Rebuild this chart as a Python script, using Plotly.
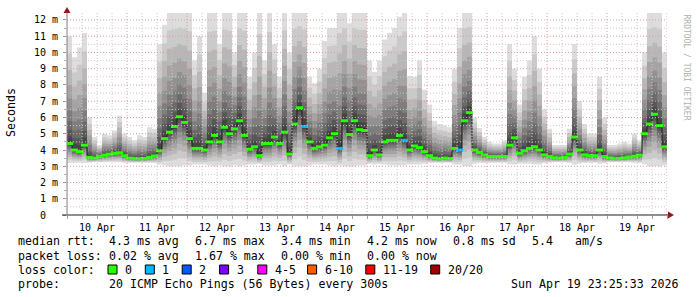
import plotly.graph_objects as go

# ---------------- data ----------------
# 2-hour columns starting Thu 10 Apr 00:00, values in milliseconds
step_h = 2
med_ms = [
    4.4, 4.0, 3.9, 4.3, 3.55, 3.5, 3.6, 3.68, 3.74, 3.79, 3.83, 3.65,      # 10 Apr
    3.5, 3.47, 3.46, 3.48, 3.55, 3.63, 3.95, 4.7, 5.1, 5.45, 6.05, 5.7,   # 11 Apr
    4.7, 4.1, 4.1, 4.0, 4.5, 4.9, 4.5, 5.4, 5.0, 5.3, 5.8, 4.9,           # 12 Apr
    4.05, 4.2, 3.65, 4.4, 4.4, 4.8, 4.4, 5.1, 3.75, 5.6, 6.6, 5.45,       # 13 Apr
    4.5, 4.1, 4.2, 4.3, 4.75, 5.0, 4.1, 5.8, 4.95, 5.8, 5.25, 5.2,        # 14 Apr
    3.65, 4.0, 3.7, 4.5, 4.6, 4.6, 4.9, 4.6, 4.0, 4.25, 4.15, 3.9,        # 15 Apr
    3.65, 3.5, 3.45, 3.5, 3.47, 4.1, 4.0, 5.8, 6.3, 4.0, 3.85, 3.7,       # 16 Apr
    3.6, 3.6, 3.6, 3.6, 4.3, 4.75, 3.8, 3.95, 4.1, 4.2, 4.0, 3.7,         # 17 Apr
    3.6, 3.52, 3.5, 3.55, 3.75, 4.8, 4.0, 3.7, 3.65, 3.65, 4.0, 3.6,      # 18 Apr
    3.52, 3.47, 3.48, 3.52, 3.57, 3.62, 3.68, 5.0, 5.6, 6.2, 5.5, 4.2,    # 19 Apr
]
hi_ms = [
    11.0, 9.7, 10.3, 11.2, 6.0, 4.8, 4.3, 5.0, 4.9, 5.2, 6.1, 5.0,
    4.8, 4.6, 4.9, 4.8, 5.4, 5.3, 10.5, 11.7, 12.6, 12.6, 12.6, 12.6,
    12.6, 9.5, 11.0, 7.5, 12.6, 12.6, 10.5, 12.6, 12.6, 10.0, 12.6, 12.6,
    8.5, 10.0, 12.6, 9.5, 12.6, 10.5, 8.5, 12.6, 10.0, 12.6, 12.6, 12.6,
    8.5, 8.1, 9.0, 10.7, 11.5, 11.5, 12.6, 12.6, 11.8, 12.6, 12.6, 12.6,
    9.5, 8.8, 9.5, 10.8, 11.2, 11.5, 12.2, 12.6, 8.55, 8.5, 9.5, 7.7,
    6.8, 5.8, 5.6, 5.5, 5.4, 9.0, 11.5, 12.6, 12.6, 6.0, 5.35, 4.8,
    4.5, 4.4, 4.4, 4.6, 10.5, 9.0, 6.8, 8.5, 9.5, 11.0, 9.0, 6.5,
    5.3, 4.3, 4.3, 4.3, 5.3, 10.5, 7.0, 5.6, 5.0, 5.0, 8.5, 6.0,
    4.3, 4.3, 4.4, 4.5, 4.4, 5.0, 4.6, 10.0, 12.6, 12.6, 12.6, 10.0,
]
lo_ms = [
    3.2, 3.2, 3.22, 3.2, 3.22, 3.25, 3.25, 3.25, 3.25, 3.25, 3.25, 3.22,
    3.22, 3.22, 3.22, 3.22, 3.22, 3.2, 3.1, 3.05, 3.0, 3.0, 3.0, 3.05,
    3.05, 3.1, 3.1, 3.1, 3.05, 3.0, 3.05, 3.0, 3.0, 3.05, 3.0, 3.05,
    3.1, 3.1, 3.15, 3.05, 3.05, 3.05, 3.1, 3.0, 3.1, 3.0, 3.0, 3.0,
    3.05, 3.1, 3.1, 3.1, 3.05, 3.0, 3.05, 3.0, 3.0, 3.0, 3.05, 3.05,
    3.15, 3.1, 3.15, 3.1, 3.05, 3.05, 3.05, 3.05, 3.1, 3.1, 3.1, 3.15,
    3.2, 3.22, 3.22, 3.22, 3.22, 3.1, 3.1, 3.0, 3.0, 3.15, 3.2, 3.2,
    3.22, 3.22, 3.22, 3.22, 3.1, 3.1, 3.15, 3.15, 3.15, 3.1, 3.1, 3.2,
    3.22, 3.25, 3.25, 3.25, 3.2, 3.1, 3.15, 3.2, 3.22, 3.22, 3.15, 3.2,
    3.25, 3.25, 3.25, 3.25, 3.25, 3.22, 3.2, 3.1, 3.0, 3.0, 3.0, 3.05,
]
# pings lost (of 20) per column
loss = [0] * 120
for c in (47, 54, 67, 78):
    loss[c] = 1

day_labels = ["10 Apr", "11 Apr", "12 Apr", "13 Apr", "14 Apr",
              "15 Apr", "16 Apr", "17 Apr", "18 Apr", "19 Apr"]
y_tick_vals = list(range(13))
y_tick_text = ["0\u00a0\u00a0"] + [f"{v} m" for v in range(1, 13)]

loss_levels = ["0", "1", "2", "3", "4-5", "6-10", "11-19", "20/20"]
loss_colors = ["#26ff00", "#00b8ff", "#0059ff", "#7e00ff",
               "#ff00ff", "#ff5e00", "#ff0000", "#a10000"]

stats_rtt = ["4.3 ms avg", "6.7 ms max", "3.4 ms min", "4.2 ms now", "0.8 ms sd"]
stats_loss = ["0.02 % avg", "1.67 % max", "0.00 % min", "0.00 % now"]
am_s = "5.4"
probe_text = "20 ICMP Echo Pings (56 Bytes) every 300s"
stamp = "Sun Apr 19 23:25:33 2026"

# ---------------- layout geometry ----------------
W, H = 697, 297
L, R, T, B = 67, 30, 13, 82
PW, PH = W - L - R, H - T - B
X_MAX = len(med_ms) * step_h
Y_MAX = 12.43
MONO = "DejaVu Sans Mono"


def px(xp):
    return (xp - L) / PW


def py(yp):
    return (H - B - yp) / PH


def stepify(v):
    return list(v) + [v[-1]]


x_edges = [i * step_h for i in range(len(med_ms) + 1)]
x_mid = [i * step_h + step_h / 2 for i in range(len(med_ms))]

fig = go.Figure()

# smoke: 10 grey bands, outer (light) to inner (dark)
n_lv = 10
for i in range(n_lv):
    f = ((n_lv - i) / n_lv) ** 1.7
    g = 221 - 19 * i
    col = f"rgb({g},{g},{g})"
    upper = [m + (h - m) * f for m, h in zip(med_ms, hi_ms)]
    lower = [m - (m - l) * f for m, l in zip(med_ms, lo_ms)]
    fig.add_trace(go.Scatter(x=x_edges, y=stepify(lower), mode="lines",
                             line=dict(width=0, shape="hv", color=col),
                             hoverinfo="skip", showlegend=False))
    fig.add_trace(go.Scatter(x=x_edges, y=stepify(upper), mode="lines",
                             line=dict(width=0, shape="hv", color=col),
                             fill="tonexty", fillcolor=col,
                             hoverinfo="skip", showlegend=False))

# dark median connector
fig.add_trace(go.Scatter(x=x_edges, y=stepify(med_ms), mode="lines",
                         line=dict(width=1, shape="hv", color="#1e1e1e"),
                         hoverinfo="skip", showlegend=False))


def loss_color(n):
    if n <= 3:
        return loss_colors[n]
    if n <= 5:
        return loss_colors[4]
    if n <= 10:
        return loss_colors[5]
    if n <= 19:
        return loss_colors[6]
    return loss_colors[7]


fig.add_trace(go.Scatter(
    x=x_mid, y=med_ms, mode="markers",
    marker=dict(symbol="line-ew", size=5,
                line=dict(width=3, color=[loss_color(n) for n in loss])),
    hoverinfo="skip", showlegend=False))

shapes = []
# grid (drawn over the data, like rrdtool)
for h in range(6, X_MAX + 1, 6):
    red = h % 24 == 0
    shapes.append(dict(type="line", xref="x", yref="paper", x0=h, x1=h, y0=0, y1=1,
                       layer="above",
                       line=dict(color="#e49a9a" if red else "#c8c8c8", width=1,
                                 dash="1px,2px")))
for k in range(1, 25):
    v = k * 0.5
    red = k % 2 == 0
    shapes.append(dict(type="line", xref="paper", yref="y", x0=0, x1=1, y0=v, y1=v,
                       layer="above",
                       line=dict(color="#e49a9a" if red else "#c8c8c8", width=1,
                                 dash="1px,2px")))
# axes with arrows
shapes.append(dict(type="line", xref="paper", yref="paper", x0=px(62), x1=px(670),
                   y0=0, y1=0, layer="above", line=dict(color="#202020", width=1)))
shapes.append(dict(type="line", xref="paper", yref="paper", x0=0, x1=0,
                   y0=0, y1=py(10), layer="above", line=dict(color="#8a7a7a", width=1)))
shapes.append(dict(type="path", xref="paper", yref="paper", layer="above",
                   path=f"M {px(63.5)},{py(13)} L {px(70.5)},{py(13)} L {px(67)},{py(7)} Z",
                   fillcolor="#8b1c1c", line=dict(width=0)))
shapes.append(dict(type="path", xref="paper", yref="paper", layer="above",
                   path=f"M {px(668)},{py(211.5)} L {px(668)},{py(218.5)} L {px(674)},{py(215)} Z",
                   fillcolor="#8b1c1c", line=dict(width=0)))

annotations = []


def txt(s, x, y, size=11.6, anchor="left", color="#000000", angle=0):
    annotations.append(dict(text=s.replace(" ", "\u00a0"), xref="paper", yref="paper",
                            x=px(x), y=py(y), xanchor=anchor, yanchor="middle",
                            showarrow=False, textangle=angle,
                            font=dict(family=MONO, size=size, color=color)))


# y title and watermark
txt("Seconds", 11, 113, anchor="center", angle=-90)
txt("RRDTOOL / TOBI OETIKER", 686.5, 67, size=8, anchor="center",
    color="#b0b0b0", angle=90)

# legend rows
row_y = [241.5, 255.5, 269.5, 283.5]
txt("median rtt:", 16, row_y[0])
for s, x in zip(stats_rtt, [107, 193, 279, 365, 451]):
    txt(s, x, row_y[0])
txt(am_s, 530, row_y[0])
txt("am/s", 573, row_y[0])

txt("packet loss:", 16, row_y[1])
for s, x in zip(stats_loss, [107, 193, 279, 365]):
    txt(s, x, row_y[1])

txt("loss color:", 16, row_y[2])
box_x = [108, 145.3, 182.2, 219.6, 257.8, 307.6, 365.8, 430.7]
for lab, colr, bx in zip(loss_levels, loss_colors, box_x):
    shapes.append(dict(type="rect", xref="paper", yref="paper",
                       x0=px(bx), x1=px(bx + 9), y0=py(274), y1=py(265),
                       fillcolor=colr, line=dict(color="#000000", width=1)))
    txt(lab, bx + 15, row_y[2])

txt("probe:", 16, row_y[3])
txt(probe_text, 107, row_y[3])
txt(stamp, 681, row_y[3], anchor="right")

fig.update_layout(
    width=W, height=H,
    margin=dict(l=L, r=R, t=T, b=B, pad=0),
    paper_bgcolor="#ffffff", plot_bgcolor="#ffffff",
    showlegend=False,
    shapes=shapes, annotations=annotations,
    xaxis=dict(range=[0, X_MAX], tickvals=[12 + 24 * d for d in range(len(day_labels))],
               ticktext=day_labels, showgrid=False, zeroline=False, showline=False,
               ticks="outside", ticklen=3, tickcolor="#a0a0a0",
               minor=dict(dtick=6, tick0=0, ticks="outside", ticklen=3, tickcolor="#a0a0a0"),
               tickfont=dict(family=MONO, size=10, color="#000000"),
               automargin=False, fixedrange=True),
    yaxis=dict(range=[0, Y_MAX], tickvals=y_tick_vals, ticktext=y_tick_text,
               showgrid=False, zeroline=False, showline=False,
               ticks="outside", ticklen=3, tickcolor="#b09090",
               minor=dict(dtick=0.5, tick0=0, ticks="outside", ticklen=2, tickcolor="#b0b0b0"),
               tickfont=dict(family=MONO, size=10, color="#000000"),
               ticklabelstandoff=3,
               automargin=False, fixedrange=True),
)

fig.write_html("out.html")
